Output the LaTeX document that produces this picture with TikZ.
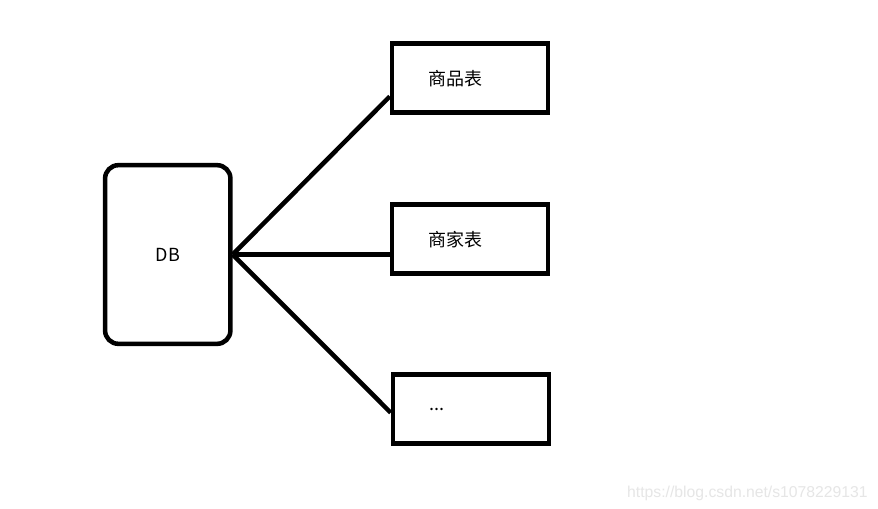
\documentclass[tikz,border=0pt]{standalone}
\usepackage{fontspec}
\usepackage{tikz}
\usetikzlibrary{calc}
\newfontfamily\cjk{Noto Sans CJK SC}
\newfontfamily\wmfont{Liberation Sans}
\definecolor{wmgray}{HTML}{E6E6E6}

\begin{document}
\begin{tikzpicture}[
    x=0.75pt, y=-0.75pt,
    font=\cjk\fontsize{13.5}{16}\selectfont,
    dbbox/.style={rectangle, draw=black, line width=3.4pt, rounded corners=10pt, minimum width=94pt, minimum height=134pt, inner sep=0pt, text depth=-3pt},
    tbl/.style={rectangle, draw=black, line width=3.4pt, minimum width=117pt, minimum height=52pt, text width=63pt, inner xsep=27pt, inner ysep=0pt, align=left, text depth=-2pt},
    conn/.style={line width=3.4pt, black},
    wm/.style={font=\wmfont\fontsize{11.8}{14}\selectfont, text=wmgray, inner sep=0pt}
]
\path[use as bounding box, fill=white] (0,0) rectangle (878,508);
\node[dbbox] (db) at (167.75,254.5) {DB};
\node[tbl] (goods) at (470,78) {商品表};
\node[tbl] (shop) at (470,239) {商家表};
\node[tbl] (more) at (471,409) {...};
\draw[conn] (db.east) -- ($(goods.south west)!0.25!(goods.north west)$);
\draw[conn] (db.east) -- (db.east -| shop.west);
\draw[conn] (db.east) -- ($(more.north west)!0.55!(more.south west)$);
\node[wm, anchor=base east] (url) at (868,497) {https://blog.csdn.net/s1078229131};
\end{tikzpicture}
\end{document}
